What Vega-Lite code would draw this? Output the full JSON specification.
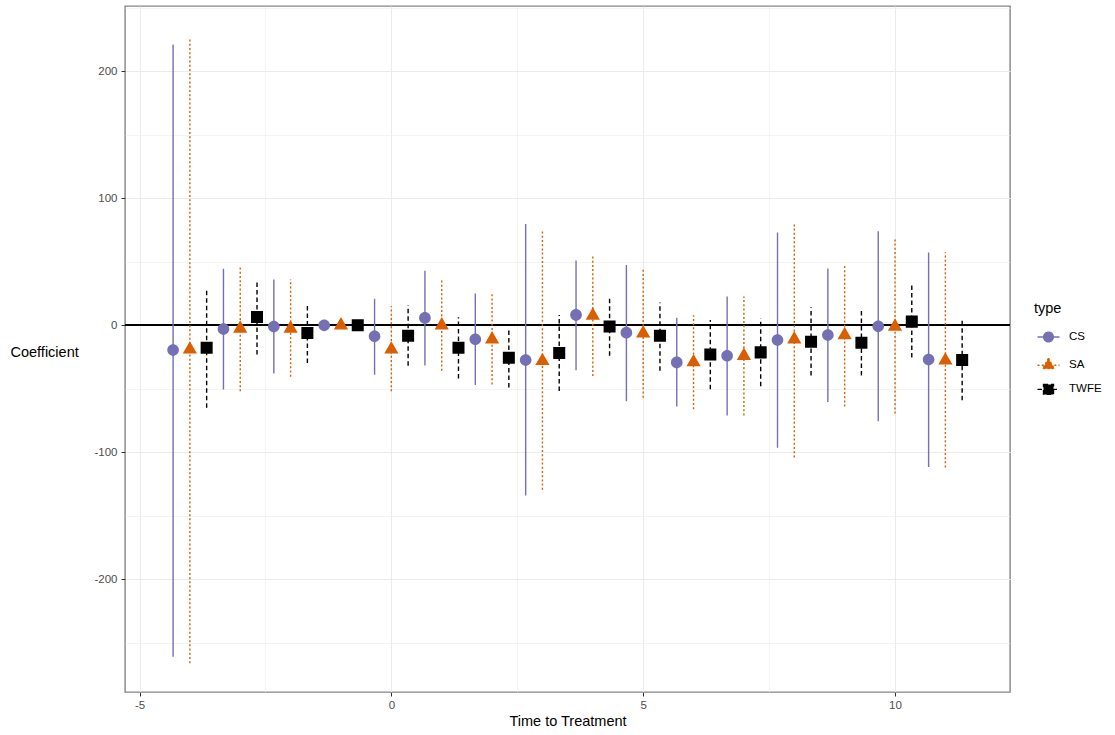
{
  "$schema": "https://vega.github.io/schema/vega-lite/v6.json",
  "width": 885,
  "height": 686,
  "autosize": {"type": "none"},
  "padding": {"left": 125, "top": 6, "right": 105, "bottom": 43},
  "background": "white",
  "config": {
    "font": "Liberation Sans",
    "view": {"stroke": "#858585", "strokeWidth": 1.4},
    "axis": {"domain": false, "labelFont": "Liberation Sans", "titleFont": "Liberation Sans"}
  },
  "data": {
    "values": [
      {"x": -4.333, "type": "CS", "est": -19.5, "lo": -261, "hi": 221},
      {"x": -3.333, "type": "CS", "est": -3, "lo": -50.6, "hi": 44.5},
      {"x": -2.333, "type": "CS", "est": -1, "lo": -38, "hi": 36},
      {"x": -1.333, "type": "CS", "est": 0, "lo": 0, "hi": 0},
      {"x": -0.333, "type": "CS", "est": -8.7, "lo": -39, "hi": 21},
      {"x": 0.667, "type": "CS", "est": 5.8, "lo": -31.6, "hi": 43},
      {"x": 1.667, "type": "CS", "est": -11, "lo": -47, "hi": 25},
      {"x": 2.667, "type": "CS", "est": -27.4, "lo": -134, "hi": 79.7},
      {"x": 3.667, "type": "CS", "est": 8.2, "lo": -35.3, "hi": 51},
      {"x": 4.667, "type": "CS", "est": -5.8, "lo": -59.7, "hi": 47.4},
      {"x": 5.667, "type": "CS", "est": -29.2, "lo": -64, "hi": 6},
      {"x": 6.667, "type": "CS", "est": -24, "lo": -71, "hi": 22.6},
      {"x": 7.667, "type": "CS", "est": -11.6, "lo": -96.3, "hi": 73},
      {"x": 8.667, "type": "CS", "est": -7.6, "lo": -60.3, "hi": 44.7},
      {"x": 9.667, "type": "CS", "est": -0.8, "lo": -75.5, "hi": 74},
      {"x": 10.667, "type": "CS", "est": -27, "lo": -111.6, "hi": 57.4},
      {"x": -4, "type": "SA", "est": -19, "lo": -266, "hi": 226},
      {"x": -3, "type": "SA", "est": -2.5, "lo": -52, "hi": 46},
      {"x": -2, "type": "SA", "est": -2.5, "lo": -40.5, "hi": 36},
      {"x": -1, "type": "SA", "est": 0, "lo": 0, "hi": 0},
      {"x": 0, "type": "SA", "est": -19, "lo": -52, "hi": 15},
      {"x": 1, "type": "SA", "est": 0, "lo": -35.8, "hi": 36},
      {"x": 2, "type": "SA", "est": -11, "lo": -46.6, "hi": 24.5},
      {"x": 3, "type": "SA", "est": -28, "lo": -129.5, "hi": 74.7},
      {"x": 4, "type": "SA", "est": 7.7, "lo": -40, "hi": 55.5},
      {"x": 5, "type": "SA", "est": -6.3, "lo": -57, "hi": 45},
      {"x": 6, "type": "SA", "est": -29, "lo": -66, "hi": 8},
      {"x": 7, "type": "SA", "est": -24, "lo": -71, "hi": 22.6},
      {"x": 8, "type": "SA", "est": -11, "lo": -104, "hi": 81},
      {"x": 9, "type": "SA", "est": -7.6, "lo": -64, "hi": 48.4},
      {"x": 10, "type": "SA", "est": -1, "lo": -69.5, "hi": 68},
      {"x": 11, "type": "SA", "est": -27.6, "lo": -112, "hi": 57.6},
      {"x": -3.667, "type": "TWFE", "est": -17.7, "lo": -65, "hi": 28},
      {"x": -2.667, "type": "TWFE", "est": 6.5, "lo": -23, "hi": 35.4},
      {"x": -1.667, "type": "TWFE", "est": -6, "lo": -29.6, "hi": 17},
      {"x": -0.667, "type": "TWFE", "est": 0, "lo": 0, "hi": 0},
      {"x": 0.333, "type": "TWFE", "est": -8.2, "lo": -31.8, "hi": 15.8},
      {"x": 1.333, "type": "TWFE", "est": -17.6, "lo": -41.8, "hi": 6.3},
      {"x": 2.333, "type": "TWFE", "est": -25.5, "lo": -49, "hi": -1.8},
      {"x": 3.333, "type": "TWFE", "est": -21.8, "lo": -51.8, "hi": 8.2},
      {"x": 4.333, "type": "TWFE", "est": -1, "lo": -24, "hi": 21.8},
      {"x": 5.333, "type": "TWFE", "est": -8.2, "lo": -35.8, "hi": 18},
      {"x": 6.333, "type": "TWFE", "est": -23, "lo": -50.3, "hi": 4.2},
      {"x": 7.333, "type": "TWFE", "est": -21.3, "lo": -47.9, "hi": 5.3},
      {"x": 8.333, "type": "TWFE", "est": -12.9, "lo": -39.5, "hi": 14.2},
      {"x": 9.333, "type": "TWFE", "est": -13.7, "lo": -39.5, "hi": 12},
      {"x": 10.333, "type": "TWFE", "est": 2.9, "lo": -25.3, "hi": 31.6},
      {"x": 11.333, "type": "TWFE", "est": -27.4, "lo": -59, "hi": 5}
    ]
  },
  "layer": [
    {
      "mark": {"type": "rule", "color": "black", "strokeWidth": 1.5},
      "encoding": {
        "y": {"datum": 0, "type": "quantitative"}
      }
    },
    {
      "mark": {"type": "rule", "strokeWidth": 1.4},
      "encoding": {
        "x": {
          "field": "x", "type": "quantitative",
          "scale": {"domain": [-5.288, 12.283], "nice": false, "zero": false},
          "axis": {
            "title": "Time to Treatment",
            "values": [-5, -2.5, 0, 2.5, 5, 7.5, 10],
            "labelExpr": "datum.value % 5 === 0 ? '' + datum.value : ''",
            "labelFontSize": 11.5, "labelColor": "#4D4D4D", "labelPadding": 3,
            "tickSize": 4, "tickColor": "#333333",
            "tickOpacity": {"condition": {"test": "datum.value % 5 === 0", "value": 1}, "value": 0},
            "grid": true, "gridColor": "#EBEBEB",
            "gridWidth": {"condition": {"test": "datum.value % 5 === 0", "value": 1.1}, "value": 0.55},
            "titleFontSize": 14.5, "titleFontWeight": "normal", "titleColor": "black", "titlePadding": 4
          }
        },
        "y": {
          "field": "lo", "type": "quantitative",
          "scale": {"domain": [-288.7, 251.4], "nice": false, "zero": false},
          "axis": {
            "title": "Coefficient",
            "values": [-250, -200, -150, -100, -50, 0, 50, 100, 150, 200, 250],
            "labelExpr": "datum.value % 100 === 0 ? '' + datum.value : ''",
            "labelFontSize": 11.5, "labelColor": "#4D4D4D", "labelPadding": 4,
            "tickSize": 4, "tickColor": "#333333",
            "tickOpacity": {"condition": {"test": "datum.value % 100 === 0", "value": 1}, "value": 0},
            "grid": true, "gridColor": "#EBEBEB",
            "gridWidth": {"condition": {"test": "datum.value % 100 === 0", "value": 1.1}, "value": 0.55},
            "titleAngle": 0, "titleAlign": "left", "titleBaseline": "middle",
            "titleX": -115, "titleY": 346,
            "titleFontSize": 14.5, "titleFontWeight": "normal", "titleColor": "black"
          }
        },
        "y2": {"field": "hi"},
        "color": {
          "field": "type", "type": "nominal",
          "scale": {"domain": ["CS", "SA", "TWFE"], "range": ["#7570B3", "#D95F02", "#000000"]}
        },
        "strokeDash": {
          "field": "type", "type": "nominal",
          "scale": {"domain": ["CS", "SA", "TWFE"], "range": [[1, 0], [2, 2.2], [4.5, 3]]}
        }
      }
    },
    {
      "mark": {"type": "point", "filled": true, "opacity": 1, "size": 342, "strokeWidth": 0},
      "encoding": {
        "x": {"field": "x", "type": "quantitative"},
        "y": {"field": "est", "type": "quantitative"},
        "color": {
          "field": "type", "type": "nominal",
          "legend": {
            "title": "type",
            "orient": "none", "legendX": 909, "legendY": 296,
            "titleFontSize": 14.5, "titleFontWeight": "normal", "titleColor": "black",
            "titlePadding": 12,
            "labelFontSize": 11.5, "labelColor": "black",
            "symbolSize": 237, "symbolOffset": 6, "labelOffset": 12, "rowPadding": 9.2,
            "symbolStrokeWidth": 1.4,
            "encode": {
              "symbols": {
                "update": {
                  "stroke": {"scale": "color", "field": "value"},
                  "strokeWidth": {"value": 1.4}
                }
              }
            }
          }
        },
        "shape": {
          "field": "type", "type": "nominal",
          "scale": {
            "domain": ["CS", "SA", "TWFE"],
            "range": [
              "M0.63,0 A0.63,0.63 0 1,1 -0.63,0 A0.63,0.63 0 1,1 0.63,0 Z M-1.43,0 L1.43,0",
              "M0,-0.89 L0.77,0.45 L-0.77,0.45 Z M-1.43,0 L1.43,0",
              "M-0.65,-0.65 L0.65,-0.65 L0.65,0.65 L-0.65,0.65 Z M-1.43,0 L1.43,0"
            ]
          }
        }
      }
    }
  ]
}
